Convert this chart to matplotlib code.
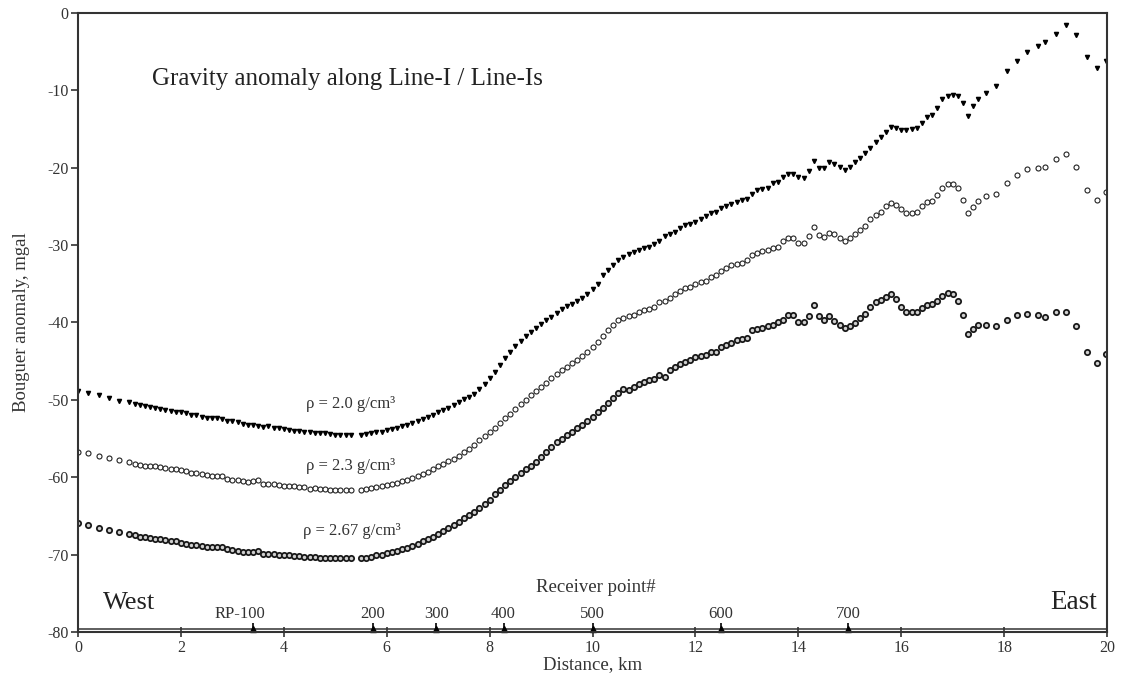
import matplotlib
matplotlib.use("Agg")
import matplotlib.pyplot as plt

plt.rcParams['font.family'] = ['Liberation Serif', 'DejaVu Serif']
plt.rcParams['axes.unicode_minus'] = False

# distance along the line, km (shared by the three density curves)
distance = [0.0, 0.2, 0.4, 0.6, 0.8,
            1.0, 1.1, 1.2, 1.3, 1.4, 1.5, 1.6, 1.7, 1.8, 1.9,
            2.0, 2.1, 2.2, 2.3, 2.4, 2.5, 2.6, 2.7, 2.8, 2.9,
            3.0, 3.1, 3.2, 3.3, 3.4, 3.5, 3.6, 3.7, 3.8, 3.9,
            4.0, 4.1, 4.2, 4.3, 4.4, 4.5, 4.6, 4.7, 4.8, 4.9,
            5.0, 5.1, 5.2, 5.3,
            5.5, 5.6, 5.7, 5.8, 5.9, 6.0, 6.1, 6.2, 6.3, 6.4,
            6.5, 6.6, 6.7, 6.8, 6.9, 7.0, 7.1, 7.2, 7.3, 7.4,
            7.5, 7.6, 7.7, 7.8, 7.9, 8.0, 8.1, 8.2, 8.3, 8.4,
            8.5, 8.6, 8.7, 8.8, 8.9, 9.0, 9.1, 9.2, 9.3, 9.4, 9.5,
            9.6, 9.7, 9.8, 9.9, 10.0, 10.1, 10.2, 10.3, 10.4, 10.5,
            10.6, 10.7, 10.8, 10.9, 11.0, 11.1, 11.2, 11.3, 11.4, 11.5,
            11.6, 11.7, 11.8, 11.9, 12.0, 12.1, 12.2, 12.3, 12.4, 12.5,
            12.6, 12.7, 12.8, 12.9, 13.0, 13.1, 13.2, 13.3, 13.4, 13.5,
            13.6, 13.7, 13.8, 13.9, 14.0,
            14.1, 14.2, 14.3, 14.4, 14.5, 14.6, 14.7, 14.8, 14.9, 15.0,
            15.1, 15.2, 15.3, 15.4, 15.5, 15.6, 15.7, 15.8, 15.9, 16.0,
            16.1, 16.2, 16.3, 16.4, 16.5, 16.6, 16.7, 16.8, 16.9, 17.0,
            17.1, 17.2, 17.3, 17.4, 17.5,
            17.65, 17.85, 18.05, 18.25, 18.45, 18.65, 18.8, 19.0, 19.2, 19.4,
            19.6, 19.8, 19.98]

# Bouguer anomaly (mgal), density 2.0 g/cm3
rho_20 = [-48.9, -49.1, -49.4, -49.8, -50.1,
          -50.3, -50.5, -50.7, -50.8, -50.9, -51.1, -51.2, -51.3, -51.4, -51.6,
          -51.6, -51.7, -51.9, -52.0, -52.2, -52.3, -52.3, -52.3, -52.5, -52.7,
          -52.8, -52.9, -53.1, -53.2, -53.2, -53.4, -53.5, -53.4, -53.6, -53.7,
          -53.8, -53.9, -54.0, -54.0, -54.1, -54.2, -54.3, -54.3, -54.3, -54.4,
          -54.5, -54.5, -54.6, -54.6,
          -54.5, -54.4, -54.3, -54.2, -54.1, -53.9, -53.8, -53.6, -53.4, -53.2,
          -53.0, -52.8, -52.5, -52.2, -51.9, -51.6, -51.3, -51.0, -50.7, -50.3,
          -49.9, -49.6, -49.2, -48.6, -47.9, -47.2, -46.4, -45.5, -44.6, -43.8,
          -43.1, -42.4, -41.8, -41.2, -40.7, -40.2, -39.7, -39.3, -38.8, -38.3, -37.9,
          -37.6, -37.2, -36.8, -36.3, -35.7, -35.1, -33.9, -33.2, -32.6, -32.0,
          -31.6, -31.2, -30.9, -30.7, -30.4, -30.2, -29.9, -29.5, -28.9, -28.6,
          -28.3, -27.8, -27.4, -27.3, -27.0, -26.7, -26.3, -25.9, -25.8, -25.2,
          -25.0, -24.7, -24.4, -24.2, -24.0, -23.4, -22.9, -22.8, -22.6, -22.0,
          -21.8, -21.2, -20.8, -20.8, -21.2,
          -21.3, -20.4, -19.2, -20.1, -20.0, -19.3, -19.5, -19.9, -20.3, -19.9,
          -19.3, -18.8, -18.1, -17.5, -16.7, -16.0, -15.4, -14.7, -14.9, -15.1,
          -15.2, -15.0, -14.9, -14.2, -13.4, -13.2, -12.3, -11.2, -10.7, -10.6,
          -10.7, -11.7, -13.3, -12.1, -11.2,
          -10.4, -9.4, -7.5, -6.2, -5.1, -4.3, -3.8, -2.7, -1.6, -2.9,
          -5.7, -7.1, -6.2]

# density 2.3 g/cm3
rho_23 = [-56.7, -56.9, -57.2, -57.5, -57.8,
          -58.1, -58.3, -58.4, -58.5, -58.6, -58.6, -58.7, -58.8, -58.9, -59.0,
          -59.1, -59.2, -59.4, -59.5, -59.6, -59.7, -59.8, -59.8, -59.9, -60.2,
          -60.3, -60.4, -60.5, -60.6, -60.5, -60.4, -60.9, -60.9, -60.9, -61.0,
          -61.1, -61.1, -61.2, -61.3, -61.3, -61.5, -61.4, -61.5, -61.5, -61.6,
          -61.6, -61.7, -61.7, -61.7,
          -61.6, -61.5, -61.4, -61.3, -61.2, -61.0, -60.9, -60.7, -60.5, -60.3,
          -60.1, -59.8, -59.6, -59.3, -59.0, -58.6, -58.3, -57.9, -57.6, -57.2,
          -56.8, -56.3, -55.8, -55.2, -54.7, -54.1, -53.6, -53.0, -52.4, -51.8,
          -51.2, -50.6, -50.0, -49.4, -48.9, -48.3, -47.8, -47.2, -46.7, -46.2, -45.7,
          -45.2, -44.8, -44.3, -43.8, -43.2, -42.5, -41.7, -41.0, -40.3, -39.7,
          -39.4, -39.2, -39.0, -38.6, -38.4, -38.3, -38.0, -37.4, -37.3, -36.8,
          -36.3, -35.9, -35.5, -35.4, -35.1, -34.8, -34.6, -34.1, -33.9, -33.4,
          -33.0, -32.6, -32.5, -32.3, -32.0, -31.3, -31.0, -30.8, -30.6, -30.4,
          -30.2, -29.5, -29.1, -29.1, -29.8,
          -29.8, -28.9, -27.7, -28.7, -29.0, -28.5, -28.6, -29.1, -29.5, -29.1,
          -28.6, -28.0, -27.5, -26.7, -26.1, -25.7, -24.9, -24.6, -24.8, -25.3,
          -25.9, -25.9, -25.7, -25.0, -24.4, -24.3, -23.6, -22.7, -22.1, -22.1,
          -22.7, -24.2, -25.9, -25.1, -24.3,
          -23.7, -23.4, -22.0, -20.9, -20.2, -20.0, -19.9, -18.9, -18.2, -19.9,
          -22.9, -24.2, -23.2]

# density 2.67 g/cm3
rho_267 = [-65.9, -66.2, -66.6, -66.8, -67.1,
           -67.3, -67.5, -67.7, -67.7, -67.8, -68.0, -68.0, -68.1, -68.2, -68.3,
           -68.5, -68.6, -68.7, -68.8, -68.9, -69.0, -69.0, -69.0, -69.0, -69.3,
           -69.4, -69.5, -69.6, -69.7, -69.6, -69.5, -69.9, -69.9, -69.9, -70.0,
           -70.1, -70.1, -70.2, -70.2, -70.3, -70.3, -70.3, -70.4, -70.4, -70.4,
           -70.5, -70.5, -70.5, -70.5,
           -70.5, -70.4, -70.3, -70.1, -70.0, -69.8, -69.7, -69.5, -69.3, -69.1,
           -68.9, -68.6, -68.3, -68.0, -67.7, -67.4, -67.0, -66.6, -66.2, -65.8,
           -65.3, -64.9, -64.5, -64.0, -63.5, -62.9, -62.2, -61.6, -61.0, -60.5,
           -60.0, -59.5, -59.0, -58.5, -58.0, -57.4, -56.8, -56.1, -55.5, -55.1, -54.6,
           -54.1, -53.7, -53.2, -52.7, -52.2, -51.6, -51.0, -50.4, -49.8, -49.1,
           -48.6, -48.7, -48.4, -47.9, -47.7, -47.5, -47.3, -46.8, -47.0, -46.2,
           -45.8, -45.4, -45.1, -44.8, -44.5, -44.3, -44.2, -43.8, -43.8, -43.2,
           -42.9, -42.6, -42.3, -42.1, -42.0, -41.0, -40.9, -40.7, -40.5, -40.3,
           -40.0, -39.7, -39.0, -39.1, -39.9,
           -40.0, -39.2, -37.8, -39.2, -39.7, -39.2, -39.8, -40.3, -40.7, -40.5,
           -40.1, -39.4, -38.9, -38.0, -37.4, -37.1, -36.7, -36.3, -37.0, -38.0,
           -38.7, -38.7, -38.7, -38.2, -37.8, -37.6, -37.3, -36.6, -36.2, -36.3,
           -37.3, -39.1, -41.5, -40.9, -40.3,
           -40.3, -40.5, -39.7, -39.1, -38.9, -39.1, -39.3, -38.7, -38.6, -40.5,
           -43.8, -45.3, -44.1]

# receiver points along the line
rp_km = [3.4, 5.73, 6.96, 8.27, 10.0, 12.49, 14.97]
rp_labels = ['RP-100', '200', '300', '400', '500', '600', '700']

fig = plt.figure(figsize=(11.21, 6.88), dpi=100)
ax = fig.add_axes([0.0696, 0.0814, 0.918, 0.9])

ax.plot(distance, rho_20, linestyle='none', marker='v', ms=3.0,
        color='black', mec='black')
ax.plot(distance, rho_23, linestyle='none', marker='o', ms=3.6,
        mfc='white', mec='#222222', mew=0.8)
ax.plot(distance, rho_267, linestyle='none', marker='o', ms=3.8,
        mfc='#d0d0d0', mec='#1a1a1a', mew=1.3)

ax.set_xlim(0, 20)
ax.set_ylim(-80, 0)
ax.set_xticks(range(0, 21, 2))
ax.set_yticks(range(-80, 1, 10))
ax.tick_params(axis='x', direction='inout', length=7, width=1.2,
               labelsize=11.5, pad=2, colors='#333333')
ax.tick_params(axis='y', direction='out', length=5, width=1.2,
               labelsize=11.5, pad=2, colors='#333333')
for s in ax.spines.values():
    s.set_linewidth(1.5)
    s.set_color('#333333')

ax.set_xlabel('Distance, km', fontsize=13.5, labelpad=0, color='#333333')
ax.set_ylabel('Bouguer anomaly, mgal', fontsize=13.5, labelpad=12,
              color='#333333')

# receiver-point axis drawn just above the distance axis
ax.axhline(-79.6, color='#333333', lw=1.1)
ax.plot(rp_km, [-79.65] * len(rp_km), linestyle='none', marker='^', ms=5,
        color='black', clip_on=False)
ax.plot(rp_km, [-79.3] * len(rp_km), linestyle='none', marker='|', ms=6,
        color='black', mew=1.2)
for xk, lab in zip(rp_km, rp_labels):
    shift = -0.25 if lab.startswith('RP') else 0
    ax.text(xk + shift, -77.7, lab, ha='center', va='center', fontsize=12,
            color='#333333')
ax.text(10.07, -74.3, 'Receiver point#', ha='center', va='center',
        fontsize=13.5, color='#333333')

ax.text(0.49, -76.2, 'West', ha='left', va='center', fontsize=19,
        color='#222222')
ax.text(19.8, -76.2, 'East', ha='right', va='center', fontsize=19.5,
        color='#222222')
ax.text(1.44, -8.6, 'Gravity anomaly along Line-I / Line-Is', ha='left',
        va='center', fontsize=18, color='#222222')

ax.text(4.43, -50.6, 'ρ = 2.0 g/cm³', ha='left', va='center', fontsize=12,
        color='#333333')
ax.text(4.43, -58.5, 'ρ = 2.3 g/cm³', ha='left', va='center', fontsize=12,
        color='#333333')
ax.text(4.38, -67.0, 'ρ = 2.67 g/cm³', ha='left', va='center', fontsize=12,
        color='#333333')

fig.savefig('out.png', dpi=100)
